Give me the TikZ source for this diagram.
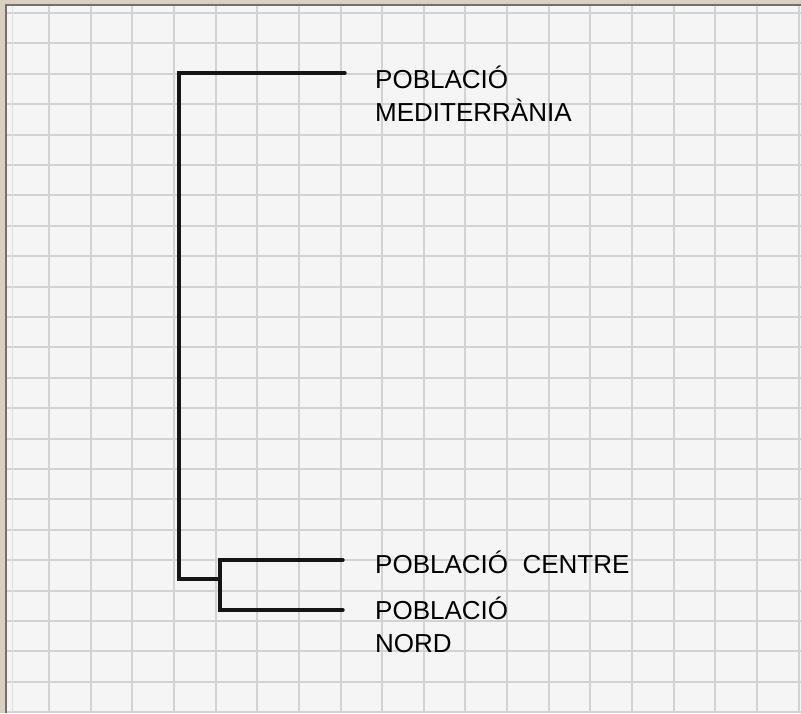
\documentclass[tikz,border=0pt]{standalone}
\usepackage{fontspec}
\setmainfont{Liberation Sans}
\definecolor{stone}{HTML}{D9D0C1}
\definecolor{paper}{HTML}{F5F5F5}
\definecolor{gridc}{HTML}{D2D2D2}
\definecolor{edgec}{HTML}{707070}
\definecolor{ink}{HTML}{151515}
\tikzset{
  gridline/.style={draw=gridc, line width=1.3pt},
  branch/.style={draw=ink, line width=3.4pt, line cap=round, line join=miter},
  leaf/.style={anchor=base west, inner sep=0pt, align=left, text=black,
    font=\fontsize{26}{33}\selectfont},
}
\begin{document}
\begin{tikzpicture}[x=1pt,y=-1pt]
\useasboundingbox (0,0) rectangle (801,713);
% background stone and paper
\fill[stone] (0,0) rectangle (801,713);
\fill[paper] (6,5) rectangle (801,713);
% grid (positions snapped to whole pixels so every line renders alike)
\foreach \k in {0,...,18} {
  \pgfmathsetmacro{\gx}{round(49+41.65*\k)}
  \draw[gridline] (\gx,5) -- (\gx,713);
}
\foreach \k in {0,...,23} {
  \pgfmathsetmacro{\gy}{round(13+30.4*\k)}
  \draw[gridline] (6,\gy) -- (801,\gy);
}
\draw[draw=gridc!70, line width=0.8pt] (12,5) -- (12,713);
% paper edge
\draw[edgec, line width=2pt] (6,713) -- (6,5) -- (801,5);
% leaves (base anchor of a multi-line node = baseline of its last line)
\node[leaf] (med) at (375,121) {POBLACIÓ\\MEDITERRÀNIA};
\node[leaf] (cen) at (375,573) {POBLACIÓ\ \ CENTRE};
\node[leaf] (nor) at (375,652) {POBLACIÓ\\NORD};
% joints
\coordinate (medend) at (345,73);
\coordinate (medjoin) at (179,73);
\coordinate (rootjoin) at (179,579);
\coordinate (cnjoin) at (220,579);
\coordinate (cenjoin) at (220,560);
\coordinate (cenend) at (343,560);
\coordinate (norjoin) at (220,610);
\coordinate (norend) at (343,610);
% dendrogram
\draw[branch] (medend) -- (medjoin) -- (rootjoin) -- (cnjoin);
\draw[branch] (cenend) -- (cenjoin) -- (norjoin) -- (norend);
\end{tikzpicture}
\end{document}
